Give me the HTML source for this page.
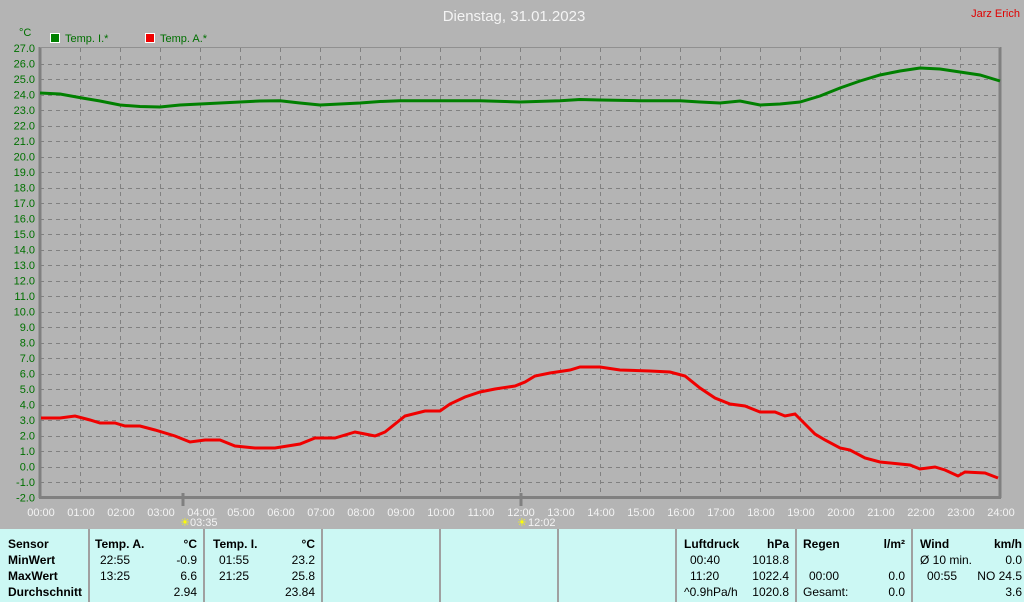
<!DOCTYPE html>
<html><head><meta charset="utf-8"><style>
body{margin:0;width:1024px;height:602px;background:#b4b4b4;overflow:hidden;font-family:"Liberation Sans",sans-serif}
svg{position:absolute;left:0;top:0}
.tb{position:absolute;left:0;top:529px;width:1024px;height:73px;background:#ccf8f4}
.c{position:absolute;top:0;height:73px;border-right:2px solid #a0a0a0;font-size:12px;color:#000}
.c div{position:absolute;white-space:nowrap}
.b{font-weight:bold}
</style></head><body>
<svg width="1024" height="529" font-family="Liberation Sans, sans-serif">
<text x="514" y="21" text-anchor="middle" font-size="15" fill="#f4f4f4">Dienstag, 31.01.2023</text>
<text x="1020" y="17" text-anchor="end" font-size="11" fill="#e00000">Jarz Erich</text>
<text x="19" y="36" font-size="11" fill="#007000">°C</text>
<rect x="50.5" y="33.5" width="9" height="9" fill="#008000" stroke="#fff"/>
<text x="65" y="42" font-size="11" fill="#007000">Temp. I.*</text>
<rect x="145.5" y="33.5" width="9" height="9" fill="#f00000" stroke="#fff"/>
<text x="160" y="42" font-size="11" fill="#007000">Temp. A.*</text>
<g id="grid" stroke="#808080" stroke-dasharray="4,4" stroke-width="1"></g>
<g id="lab" font-size="11" fill="#007000" text-anchor="end"></g>
<g id="xl" font-size="11" fill="#f4f4f4" text-anchor="middle"></g>
<line x1="40" y1="47" x2="40" y2="498" stroke="#808080" stroke-width="3"/>
<line x1="39" y1="497.5" x2="1001" y2="497.5" stroke="#808080" stroke-width="3"/>
<line x1="1000" y1="47" x2="1000" y2="498" stroke="#808080" stroke-width="3"/>
<line x1="40" y1="47.5" x2="1000" y2="47.5" stroke="#909090" stroke-width="1"/>
<line x1="183" y1="493" x2="183" y2="506" stroke="#808080" stroke-width="3"/>
<line x1="521" y1="493" x2="521" y2="506" stroke="#808080" stroke-width="3"/>
<text x="180" y="526" font-size="11" fill="#ffff00">☀</text><text x="190" y="526" font-size="11" fill="#f4f4f4">03:35</text>
<text x="517" y="526" font-size="11" fill="#ffff00">☀</text><text x="528" y="526" font-size="11" fill="#f4f4f4">12:02</text>
<polyline fill="none" stroke="#008000" stroke-width="3" points="40,93 60,94 80,97.6 100,101 120,105 140,106.5 160,107 180,105 200,104 220,103 240,102 260,101 280,100.7 300,103 320,105 340,104 360,103 380,101.5 400,100.7 440,100.7 480,100.7 520,102 560,100.7 580,99.5 600,100 640,100.7 680,100.7 700,102 720,103 740,101 760,105 780,104 800,102 820,96 840,88 860,81 880,75 900,71 920,68 940,69 960,72 980,75 1000,81"/>
<polyline fill="none" stroke="#f00000" stroke-width="3" points="41,418 60,418 75,416 90,420 100,423 115,423 125,426 140,426 155,430 175,436 190,442 205,440 220,440 235,446 255,448 275,448 300,444 315,438 335,438 355,432 365,434 375,436 385,432 395,424 405,416 425,411 440,411 450,404 465,397 480,392 495,389 515,386 525,382 535,376 550,373 570,370 580,367 600,367 620,370 650,371 670,372 685,376 700,388 715,398 730,404 745,406 760,412 775,412 785,416 795,414 805,424 815,434 825,440 840,448 850,450 865,458 880,462 900,464 910,465 920,469 935,467 945,470 958,476 965,472 985,473 998,478"/>
<script>
var g=document.getElementById('grid'),l=document.getElementById('lab'),x=document.getElementById('xl'),ns='http://www.w3.org/2000/svg';
for(var t=27;t>=-2;t--){var y=48+(27-t)*15.5;
 if(t<27&&t>-2){var e=document.createElementNS(ns,'line');e.setAttribute('x1',40);e.setAttribute('x2',1000);e.setAttribute('y1',Math.round(y)+.5);e.setAttribute('y2',Math.round(y)+.5);g.appendChild(e);}
 var s=document.createElementNS(ns,'text');s.setAttribute('x',35);s.setAttribute('y',y+4);s.textContent=t.toFixed(1);l.appendChild(s);}
for(var h=0;h<=24;h++){var xx=40+h*40;
 if(h>0&&h<24){var e=document.createElementNS(ns,'line');e.setAttribute('x1',xx+.5);e.setAttribute('x2',xx+.5);e.setAttribute('y1',48);e.setAttribute('y2',497);g.appendChild(e);}
 var s=document.createElementNS(ns,'text');s.setAttribute('x',xx+1);s.setAttribute('y',516);s.textContent=(h<10?'0':'')+h+':00';x.appendChild(s);}
</script>
</svg>
<div class="tb">
<div class="c" style="left:0;width:88px"><div class="b" style="left:8px;top:8px">Sensor</div><div class="b" style="left:8px;top:24px">MinWert</div><div class="b" style="left:8px;top:40px">MaxWert</div><div class="b" style="left:8px;top:56px">Durchschnitt</div></div>
<div class="c" style="left:90px;width:113px"><div class="b" style="left:5px;top:8px">Temp. A.</div><div class="b" style="right:6px;top:8px">°C</div><div style="left:10px;top:24px">22:55</div><div style="right:6px;top:24px">-0.9</div><div style="left:10px;top:40px">13:25</div><div style="right:6px;top:40px">6.6</div><div style="right:6px;top:56px">2.94</div></div>
<div class="c" style="left:205px;width:116px"><div class="b" style="left:8px;top:8px">Temp. I.</div><div class="b" style="right:6px;top:8px">°C</div><div style="left:14px;top:24px">01:55</div><div style="right:6px;top:24px">23.2</div><div style="left:14px;top:40px">21:25</div><div style="right:6px;top:40px">25.8</div><div style="right:6px;top:56px">23.84</div></div>
<div class="c" style="left:323px;width:116px"></div>
<div class="c" style="left:441px;width:116px"></div>
<div class="c" style="left:559px;width:116px"></div>
<div class="c" style="left:677px;width:118px"><div class="b" style="left:7px;top:8px">Luftdruck</div><div class="b" style="right:6px;top:8px">hPa</div><div style="left:13px;top:24px">00:40</div><div style="right:6px;top:24px">1018.8</div><div style="left:13px;top:40px">11:20</div><div style="right:6px;top:40px">1022.4</div><div style="left:7px;top:56px">^0.9hPa/h</div><div style="right:6px;top:56px">1020.8</div></div>
<div class="c" style="left:797px;width:114px"><div class="b" style="left:6px;top:8px">Regen</div><div class="b" style="right:6px;top:8px">l/m²</div><div style="left:12px;top:40px">00:00</div><div style="right:6px;top:40px">0.0</div><div style="left:6px;top:56px">Gesamt:</div><div style="right:6px;top:56px">0.0</div></div>
<div class="c" style="left:913px;width:111px;border:none"><div class="b" style="left:7px;top:8px">Wind</div><div class="b" style="right:2px;top:8px">km/h</div><div style="left:7px;top:24px">Ø 10 min.</div><div style="right:2px;top:24px">0.0</div><div style="left:14px;top:40px">00:55</div><div style="right:2px;top:40px">NO 24.5</div><div style="right:2px;top:56px">3.6</div></div>
</div>
</body></html>
